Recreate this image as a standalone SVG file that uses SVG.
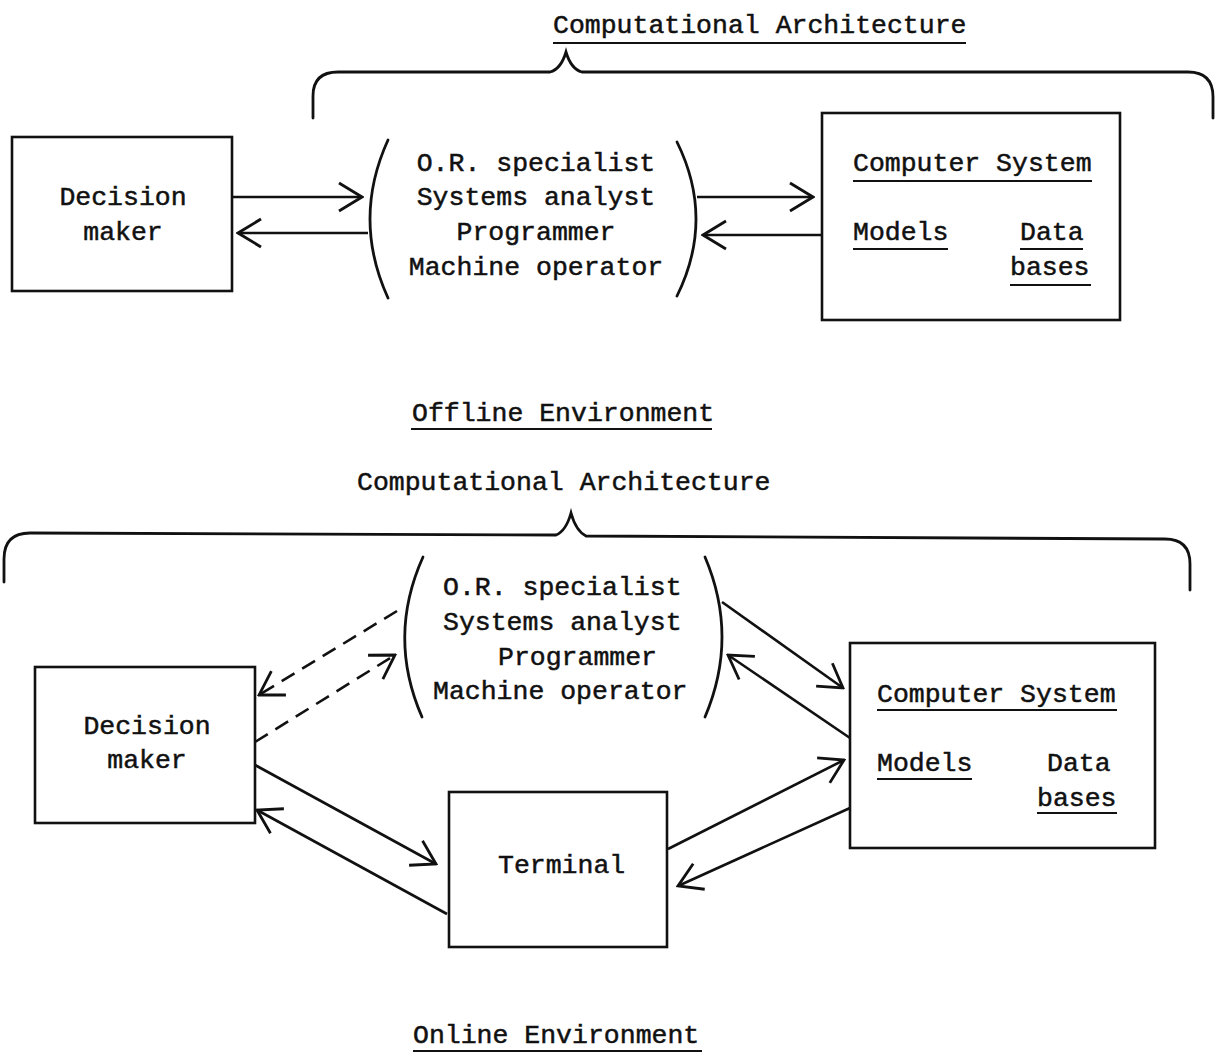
<svg xmlns="http://www.w3.org/2000/svg" width="1226" height="1055" viewBox="0 0 1226 1055">
<style>
text{font-family:"Liberation Mono","DejaVu Sans Mono",monospace;font-size:26.5px;fill:#111;stroke:#111;stroke-width:0.5}
.box{fill:none;stroke:#111;stroke-width:2.6}
.ln{fill:none;stroke:#111;stroke-width:2.6}
.ul{stroke:#111;stroke-width:2.2}
.br{fill:none;stroke:#111;stroke-width:2.8;stroke-linecap:round}
.dash{stroke-dasharray:15 9}
.m{text-anchor:middle}
</style>
<defs>
<marker id="ah" markerUnits="userSpaceOnUse" viewBox="0 0 26 32" refX="24" refY="16" markerWidth="26" markerHeight="32" orient="auto">
<path d="M1,2 L24,16 L1,30" fill="none" stroke="#111" stroke-width="2.8"/>
</marker>
</defs>
<rect width="1226" height="1055" fill="#fff"/>

<!-- Offline environment -->
<g id="top-title">
<text x="553" y="33">Computational Architecture</text>
<line class="ul" x1="553" y1="43" x2="966" y2="43"/>
</g>
<g id="top-brace">
<path class="br" d="M313,118 L313,96 Q313,72 338,72 L550,72 Q561,69 566,52 Q571,69 582,72 L1188,72 Q1213,72 1213,97 L1213,118"/>
</g>
<g id="top-decision-maker">
<rect class="box" x="12" y="137" width="220" height="154"/>
<text class="m" x="123" y="205">Decision</text>
<text class="m" x="123" y="240">maker</text>
</g>
<g id="top-intermediaries">
<path class="br" d="M388,140 Q352,219 388,298"/>
<path class="br" d="M677,142 Q715,219 677,296"/>
<text class="m" x="536" y="171">O.R. specialist</text>
<text class="m" x="536" y="205">Systems analyst</text>
<text class="m" x="536" y="240">Programmer</text>
<text class="m" x="536" y="275">Machine operator</text>
</g>
<g id="top-computer-system">
<rect class="box" x="822" y="113" width="298" height="207"/>
<text x="853" y="171">Computer System</text>
<line class="ul" x1="853" y1="181" x2="1092" y2="181"/>
<text x="853" y="240">Models</text>
<line class="ul" x1="853" y1="249" x2="948" y2="249"/>
<text x="1020" y="240">Data</text>
<line class="ul" x1="1020" y1="249" x2="1083" y2="249"/>
<text x="1010" y="275">bases</text>
<line class="ul" x1="1010" y1="285" x2="1091" y2="285"/>
</g>
<g id="top-label">
<text x="412" y="421">Offline Environment</text>
<line class="ul" x1="411" y1="429" x2="712" y2="429"/>
</g>

<!-- Online environment -->
<g id="bottom-title">
<text x="357" y="490">Computational Architecture</text>
</g>
<g id="bottom-brace">
<path class="br" d="M4,582 L4,559 Q4,533 30,533 L556,535 Q566,531 571,513 Q576,531 586,536 L1165,539 Q1190,539 1190,564 L1190,590"/>
</g>
<g id="bottom-intermediaries">
<path class="br" d="M423,557 Q387,637 422,717"/>
<path class="br" d="M705,557 Q739,637 705,717"/>
<text x="443" y="595">O.R. specialist</text>
<text x="443" y="630">Systems analyst</text>
<text x="498" y="665">Programmer</text>
<text x="433" y="699">Machine operator</text>
</g>
<g id="bottom-decision-maker">
<rect class="box" x="35" y="667" width="220" height="156"/>
<text class="m" x="147" y="734">Decision</text>
<text class="m" x="147" y="768">maker</text>
</g>
<g id="terminal">
<rect class="box" x="449" y="792" width="218" height="155"/>
<text x="498" y="873">Terminal</text>
</g>
<g id="bottom-computer-system">
<rect class="box" x="850" y="643" width="305" height="205"/>
<text x="877" y="702">Computer System</text>
<line class="ul" x1="877" y1="710" x2="1117" y2="710"/>
<text x="877" y="771">Models</text>
<line class="ul" x1="877" y1="779" x2="972" y2="779"/>
<text x="1047" y="771">Data</text>
<text x="1037" y="806">bases</text>
<line class="ul" x1="1037" y1="813" x2="1117" y2="813"/>
</g>
<g id="bottom-label">
<text x="413" y="1043">Online Environment</text>
<line class="ul" x1="413" y1="1051" x2="702" y2="1051"/>
</g>

<g id="connectors">
<line class="ln" x1="232" y1="197" x2="362" y2="197" marker-end="url(#ah)"/>
<line class="ln" x1="368" y1="233" x2="238" y2="233" marker-end="url(#ah)"/>
<line class="ln" x1="697" y1="197" x2="813" y2="197" marker-end="url(#ah)"/>
<line class="ln" x1="822" y1="235" x2="703" y2="235" marker-end="url(#ah)"/>

<line class="ln dash" x1="397" y1="611" x2="259" y2="695" marker-end="url(#ah)"/>
<line class="ln dash" x1="255" y1="742" x2="395" y2="655" marker-end="url(#ah)"/>
<line class="ln" x1="255" y1="765" x2="436" y2="864" marker-end="url(#ah)"/>
<line class="ln" x1="447" y1="914" x2="257" y2="810" marker-end="url(#ah)"/>
<line class="ln" x1="722" y1="602" x2="843" y2="688" marker-end="url(#ah)"/>
<line class="ln" x1="850" y1="738" x2="728" y2="655" marker-end="url(#ah)"/>
<line class="ln" x1="668" y1="849" x2="844" y2="760" marker-end="url(#ah)"/>
<line class="ln" x1="850" y1="808" x2="678" y2="886" marker-end="url(#ah)"/>
</g>
</svg>
